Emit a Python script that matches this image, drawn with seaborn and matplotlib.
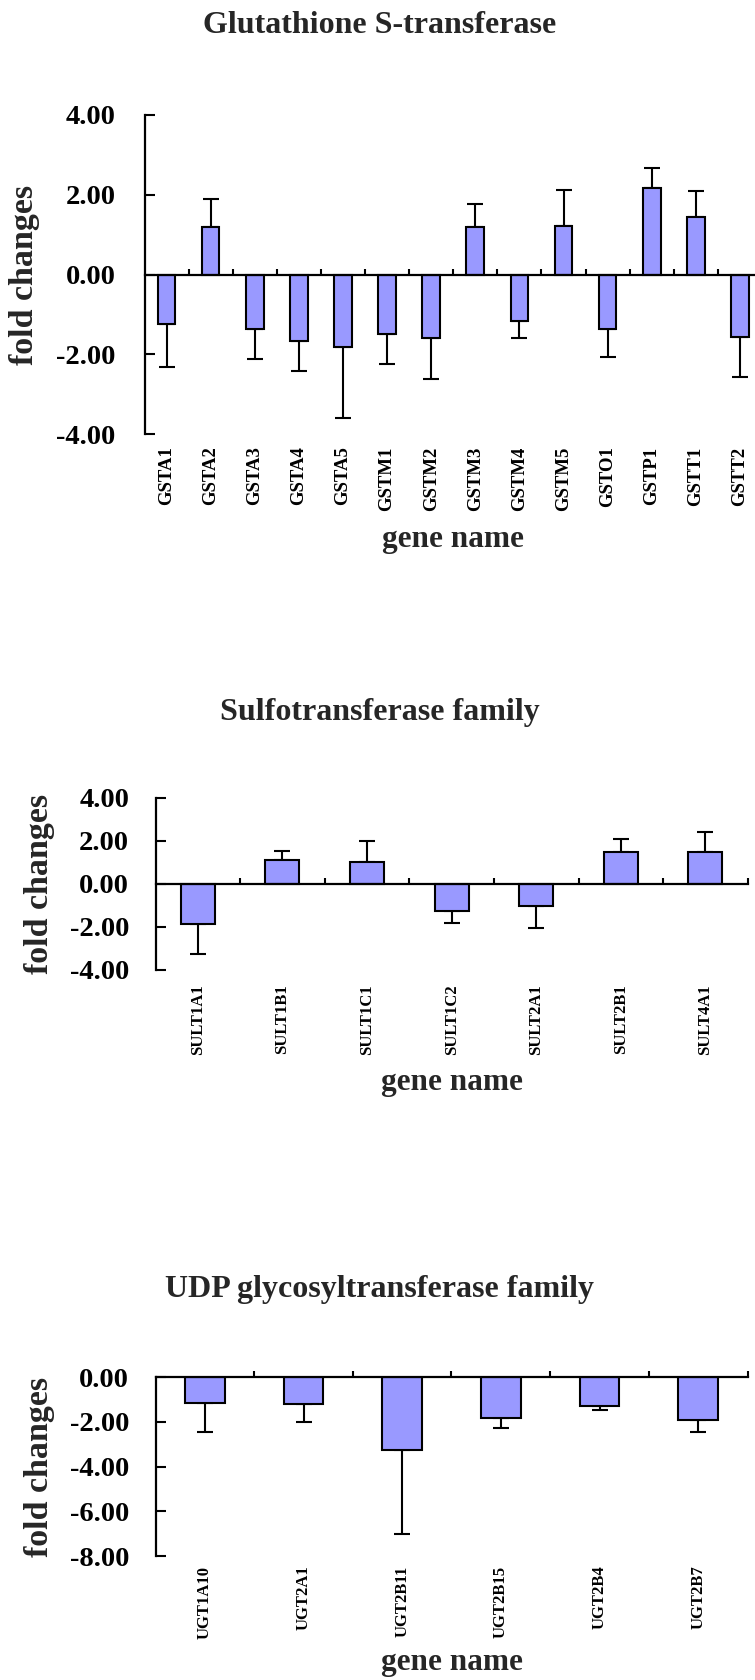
import numpy as np
import matplotlib
matplotlib.use("Agg")
import matplotlib.pyplot as plt
import matplotlib.transforms as mtransforms
from matplotlib.ticker import StrMethodFormatter
import seaborn as sns

# data
gst_genes = ["GSTA1", "GSTA2", "GSTA3", "GSTA4", "GSTA5", "GSTM1", "GSTM2",
             "GSTM3", "GSTM4", "GSTM5", "GSTO1", "GSTP1", "GSTT1", "GSTT2"]
gst_fold = [-1.24, 1.19, -1.36, -1.67, -1.81, -1.50, -1.58,
            1.18, -1.17, 1.21, -1.37, 2.18, 1.45, -1.56]
gst_err = [1.08, 0.70, 0.77, 0.75, 1.80, 0.75, 1.03,
           0.58, 0.41, 0.92, 0.70, 0.49, 0.64, 1.01]

sult_genes = ["SULT1A1", "SULT1B1", "SULT1C1", "SULT1C2", "SULT2A1", "SULT2B1", "SULT4A1"]
sult_fold = [-1.87, 1.11, 1.01, -1.24, -1.01, 1.50, 1.47]
sult_err = [1.39, 0.42, 0.98, 0.56, 1.05, 0.57, 0.96]

ugt_genes = ["UGT1A10", "UGT2A1", "UGT2B11", "UGT2B15", "UGT2B4", "UGT2B7"]
ugt_fold = [-1.16, -1.21, -3.25, -1.81, -1.27, -1.91]
ugt_err = [1.31, 0.78, 3.75, 0.48, 0.18, 0.55]

titles = ["Glutathione S-transferase", "Sulfotransferase family", "UDP glycosyltransferase family"]

BAR = "#9999FF"
W, H = 755, 1680

sns.set_style("ticks")
plt.rcParams["font.family"] = ["Liberation Serif", "DejaVu Serif"]
plt.rcParams["font.weight"] = "bold"
plt.rcParams["axes.labelweight"] = "bold"
plt.rcParams["axes.unicode_minus"] = False

fig = plt.figure(figsize=(W / 100, H / 100), dpi=100)


def rect(left, top, right, bottom):
    # pixel box -> figure fraction
    return [left / W, 1 - bottom / H, (right - left) / W, (bottom - top) / H]


def draw_panel(ax, genes, fold, err, ylim, yticks, xsize, xpad, ypad,
               title, title_y, xlab_y, ylab_x):
    sns.barplot(x=genes, y=fold, color=BAR, saturation=1, width=0.4,
                edgecolor="black", linewidth=1.5, errorbar=None, ax=ax, zorder=2)
    fold = np.array(fold)
    err = np.array(err)
    lower = np.where(fold < 0, err, 0)
    upper = np.where(fold > 0, err, 0)
    ax.errorbar(np.arange(len(genes)), fold, yerr=[lower, upper], fmt="none",
                ecolor="black", elinewidth=1.5, capsize=5.5, capthick=1.5, zorder=1)

    ax.set_xlim(-0.5, len(genes) - 0.5)
    ax.set_ylim(*ylim)
    ax.set_yticks(yticks)
    ax.yaxis.set_major_formatter(StrMethodFormatter("{x:.2f}"))

    ax.spines["top"].set_position(("data", 0))
    ax.spines["right"].set_visible(False)
    ax.spines["bottom"].set_visible(False)
    for s in ["top", "left"]:
        ax.spines[s].set_linewidth(1.6)
        ax.spines[s].set_color("black")

    ax.set_xticks(np.arange(len(genes)) + 0.5, minor=True)
    ax.tick_params(axis="x", which="minor", top=True, bottom=False,
                   direction="out", length=4.5, width=1.5, color="black")
    ax.tick_params(axis="x", which="major", top=False, bottom=True, length=0,
                   labelrotation=90, labelsize=xsize, pad=xpad, labelcolor="black")
    ax.tick_params(axis="y", which="major", left=True, direction="in", length=7,
                   width=1.5, pad=ypad, labelsize=20.5, color="black", labelcolor="black")

    ax.set_xlabel("gene name", fontsize=22.5, va="baseline")
    ax.xaxis.set_label_coords(0.5, 1 - xlab_y / H,
                              transform=mtransforms.blended_transform_factory(ax.transAxes, fig.transFigure))
    ax.set_ylabel("fold changes", fontsize=24.5, va="center")
    ax.yaxis.set_label_coords(ylab_x / W, 0.5,
                              transform=mtransforms.blended_transform_factory(fig.transFigure, ax.transAxes))

    fig.text(0.503, 1 - title_y / H, title, ha="center", va="baseline",
             fontsize=23, fontweight="bold")


ax1 = fig.add_axes(rect(144.5, 115, 762, 434))
draw_panel(ax1, gst_genes, gst_fold, gst_err, (-4, 4), [-4, -2, 0, 2, 4],
           13.5, 9, 21, titles[0], 33.3, 546.7, 24.75)

ax2 = fig.add_axes(rect(155.5, 797.7, 747.7, 970))
draw_panel(ax2, sult_genes, sult_fold, sult_err, (-4, 4), [-4, -2, 0, 2, 4],
           12, 10, 19, titles[1], 720, 1090, 39.75)

ax3 = fig.add_axes(rect(155.5, 1377.3, 747.5, 1556))
draw_panel(ax3, ugt_genes, ugt_fold, ugt_err, (-8, 0), [-8, -6, -4, -2, 0],
           12, 7, 19, titles[2], 1296.7, 1670, 39.75)

fig.savefig("out.png", dpi=100)
